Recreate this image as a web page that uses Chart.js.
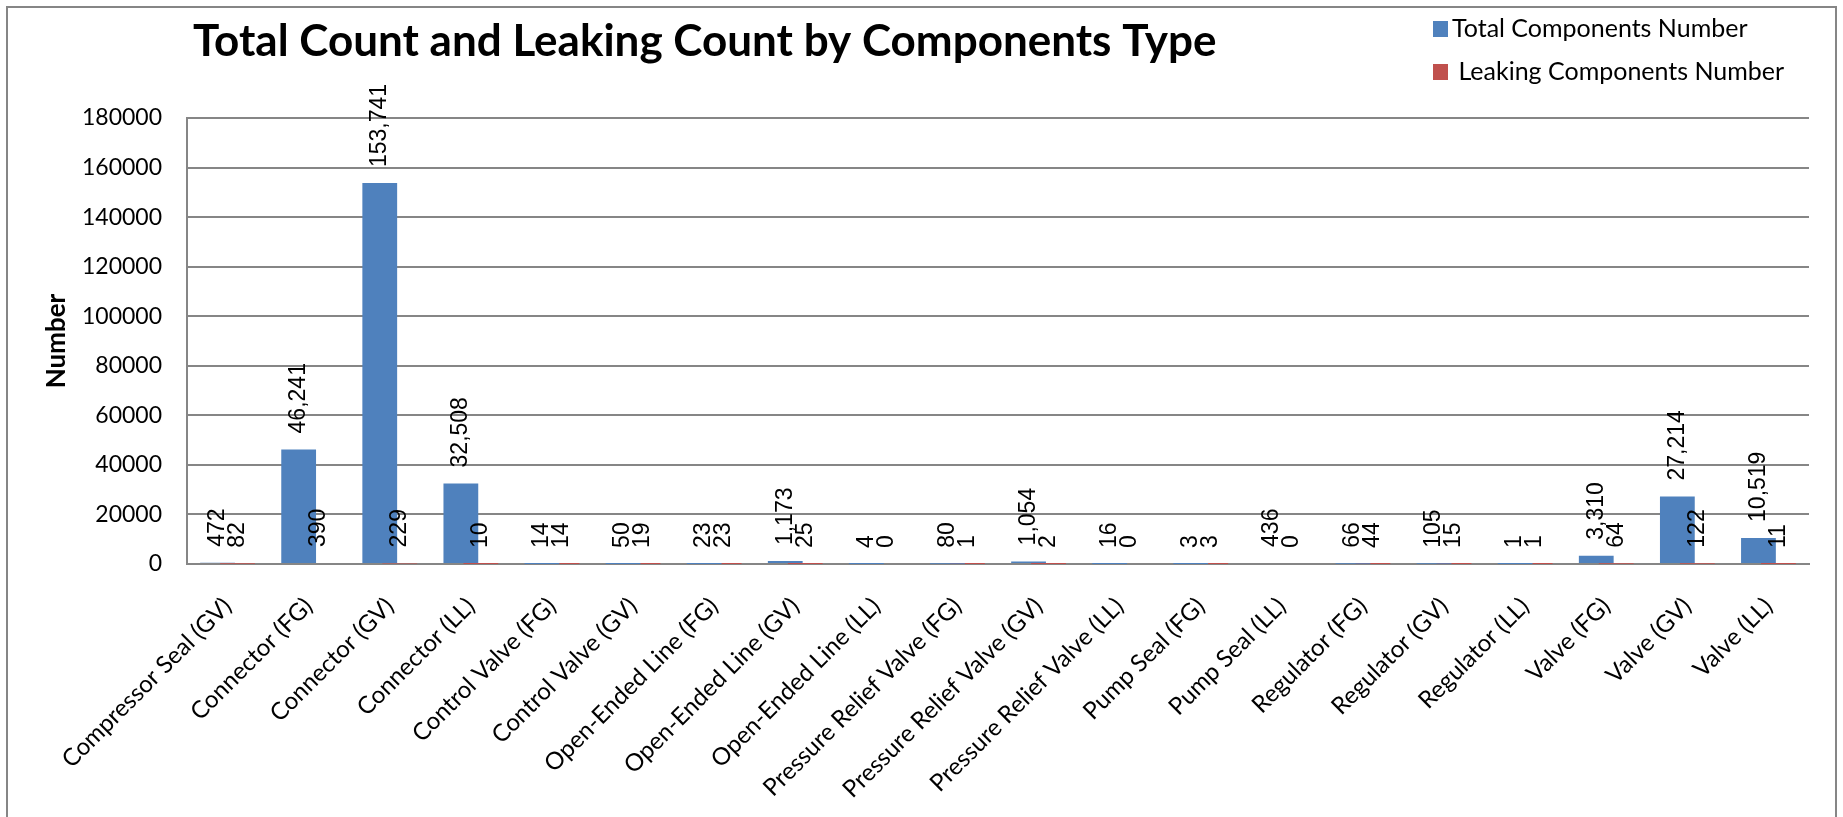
<!DOCTYPE html>
<html>
<head>
<meta charset="utf-8">
<title>Total Count and Leaking Count by Components Type</title>
<script src="https://cdn.jsdelivr.net/npm/chart.js@4.4.1/dist/chart.umd.min.js"></script>
<style>
  html, body { margin: 0; padding: 0; background: #fff; }
  #wrap { position: relative; width: 1843px; height: 817px; }
</style>
</head>
<body>
<div id="wrap"><canvas id="chart"></canvas></div>
<script>
// ── Data ──────────────────────────────────────
const categories = [
  'Compressor Seal (GV)', 'Connector (FG)', 'Connector (GV)', 'Connector (LL)',
  'Control Valve (FG)', 'Control Valve (GV)', 'Open-Ended Line (FG)', 'Open-Ended Line (GV)',
  'Open-Ended Line (LL)', 'Pressure Relief Valve (FG)', 'Pressure Relief Valve (GV)',
  'Pressure Relief Valve (LL)', 'Pump Seal (FG)', 'Pump Seal (LL)', 'Regulator (FG)',
  'Regulator (GV)', 'Regulator (LL)', 'Valve (FG)', 'Valve (GV)', 'Valve (LL)'
];
const totalCounts   = [472, 46241, 153741, 32508, 14, 50, 23, 1173, 4, 80, 1054, 16, 3, 436, 66, 105, 1, 3310, 27214, 10519];
const leakingCounts = [82, 390, 229, 10, 14, 19, 23, 25, 0, 1, 2, 0, 3, 0, 44, 15, 1, 64, 122, 11];
const seriesNames   = ['Total Components Number', ' Leaking Components Number'];
const seriesColors  = ['#4F81BD', '#C0504D'];
const yMin = 0, yMax = 180000, yStep = 20000;

const chartTitle = 'Total Count and Leaking Count by Components Type';
const yTitle     = 'Number';
const GRID       = '#868686';
const UI_FONT    = 'Lato, "Open Sans", sans-serif';

// ── Plugins ───────────────────────────────────
const frame = {
  id: 'frame',
  beforeDraw(chart) {
    const { ctx } = chart;
    ctx.save();
    ctx.fillStyle = '#fff';
    ctx.fillRect(0, 0, chart.width, chart.height);
    ctx.strokeStyle = GRID;
    ctx.lineWidth = 2;
    ctx.strokeRect(7, 7, chart.width - 14, chart.height + 100);
    ctx.restore();
  }
};

const header = {
  id: 'header',
  afterDraw(chart) {
    const { ctx } = chart;
    ctx.save();
    ctx.fillStyle = '#000';
    ctx.textBaseline = 'alphabetic';
    ctx.textAlign = 'left';
    ctx.font = `bold 44px ${UI_FONT}`;
    ctx.fillText(chartTitle, 193, 56);

    // legend, stacked on the right
    ctx.font = `25px ${UI_FONT}`;
    ctx.textBaseline = 'middle';
    chart.data.datasets.forEach((ds, i) => {
      const y = 29 + i * 43;
      ctx.fillStyle = ds.backgroundColor;
      ctx.fillRect(1433, y - 8, 15, 16);
      ctx.fillStyle = '#000';
      ctx.fillText(ds.label, 1452, y);
    });
    ctx.restore();
  }
};

const valueLabels = {
  id: 'valueLabels',
  afterDatasetsDraw(chart) {
    const { ctx } = chart;
    ctx.save();
    ctx.font = '23px "Liberation Sans", Arial, sans-serif';
    ctx.fillStyle = '#000';
    ctx.textAlign = 'left';
    ctx.textBaseline = 'middle';
    chart.data.datasets.forEach((ds, i) => {
      chart.getDatasetMeta(i).data.forEach((bar, j) => {
        ctx.save();
        ctx.translate(bar.x, bar.y - 16);
        ctx.rotate(-Math.PI / 2);
        ctx.fillText(ds.data[j].toLocaleString('en-US'), 0, 0);
        ctx.restore();
      });
    });
    ctx.restore();
  }
};

// ── Chart ─────────────────────────────────────
new Chart(document.getElementById('chart'), {
  type: 'bar',
  data: {
    labels: categories,
    datasets: [
      { label: seriesNames[0], data: totalCounts,   backgroundColor: seriesColors[0] },
      { label: seriesNames[1], data: leakingCounts, backgroundColor: seriesColors[1] }
    ]
  },
  options: {
    responsive: true,
    maintainAspectRatio: false,
    animation: false,
    categoryPercentage: 0.493,
    barPercentage: 1.74,
    layout: { padding: { top: 118, right: 34, left: 0, bottom: 0 } },
    plugins: {
      legend: { display: false },
      title: { display: false },
      tooltip: { enabled: false }
    },
    scales: {
      x: {
        grid: { display: false, drawTicks: false },
        border: { display: true, color: GRID, width: 2 },
        ticks: {
          color: '#000',
          font: { family: UI_FONT, size: 24 },
          minRotation: 45,
          maxRotation: 45,
          autoSkip: false,
          padding: 28
        },
        afterFit(scale) { scale.height = 253; }
      },
      y: {
        min: yMin,
        max: yMax,
        grid: { color: GRID, lineWidth: 2, drawTicks: false },
        border: { display: true, color: GRID, width: 2 },
        ticks: {
          stepSize: yStep,
          color: '#000',
          font: { family: UI_FONT, size: 23 },
          padding: 25,
          callback: v => String(v)
        },
        title: {
          display: true,
          text: yTitle,
          color: '#000',
          font: { family: UI_FONT, size: 26, weight: 'bold' },
          padding: { top: 41, bottom: 0 }
        },
        afterFit(scale) { scale.width = 187; }
      }
    }
  },
  plugins: [frame, header, valueLabels]
});
</script>
</body>
</html>
